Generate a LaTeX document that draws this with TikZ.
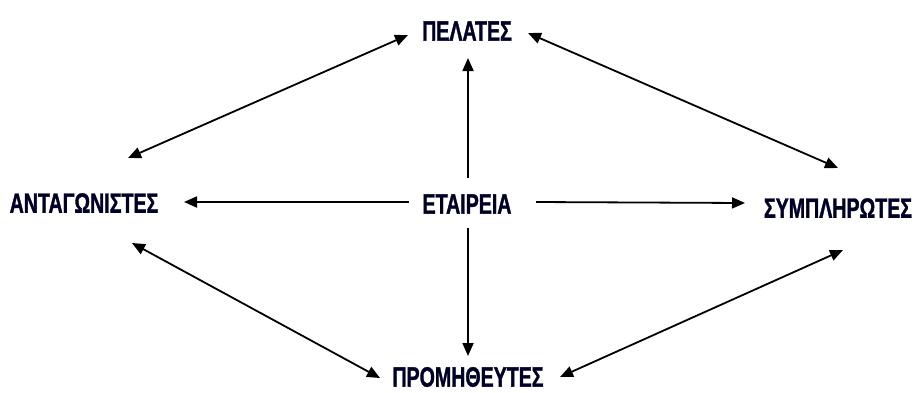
\documentclass[tikz,border=0pt]{standalone}
\usepackage{fontspec}
\newfontfamily\labfont[FakeStretch=0.7,FakeBold=1.2]{Liberation Sans}
\usetikzlibrary{arrows.meta}
\begin{document}
\begin{tikzpicture}[x=1pt,y=-1pt,
  lab/.style={inner sep=0pt,anchor=center,font=\labfont\bfseries\fontsize{28}{28}\selectfont,text=black!85!blue},
  arr/.style={line width=1.8pt,-{Triangle[length=13pt,width=11pt]}},
  dbl/.style={line width=1.8pt,{Triangle[length=13pt,width=11pt]}-{Triangle[length=13pt,width=11pt]}}]
\useasboundingbox (0,0) rectangle (917,392);
\node[lab] (pel) at (467,31) {ΠΕΛΑΤΕΣ};
\node[lab] (ant) at (84,203) {ΑΝΤΑΓΩΝΙΣΤΕΣ};
\node[lab] (eta) at (467,204) {ΕΤΑΙΡΕΙΑ};
\node[lab] (sym) at (838,208) {ΣΥΜΠΛΗΡΩΤΕΣ};
\node[lab] (pro) at (468,377) {ΠΡΟΜΗΘΕΥΤΕΣ};
% connector ends
\coordinate (pelL) at (408,35);
\coordinate (antU) at (128,158);
\coordinate (pelR) at (528,33);
\coordinate (symU) at (838,168);
\coordinate (antD) at (132,243);
\coordinate (proL) at (380,378);
\coordinate (symD) at (843,250);
\coordinate (proR) at (560,377);
\coordinate (etaL) at (409,202);
\coordinate (antR) at (184,202);
\coordinate (etaR) at (536,202);
\coordinate (symL) at (745,203);
\coordinate (etaU) at (468,178);
\coordinate (pelD) at (468,58);
\coordinate (etaD) at (468,228);
\coordinate (proU) at (468,356);
\draw[dbl] (antU) -- (pelL);
\draw[dbl] (pelR) -- (symU);
\draw[dbl] (antD) -- (proL);
\draw[dbl] (proR) -- (symD);
\draw[arr] (etaL) -- (antR);
\draw[arr] (etaR) -- (symL);
\draw[arr] (etaU) -- (pelD);
\draw[arr] (etaD) -- (proU);
\end{tikzpicture}
\end{document}
